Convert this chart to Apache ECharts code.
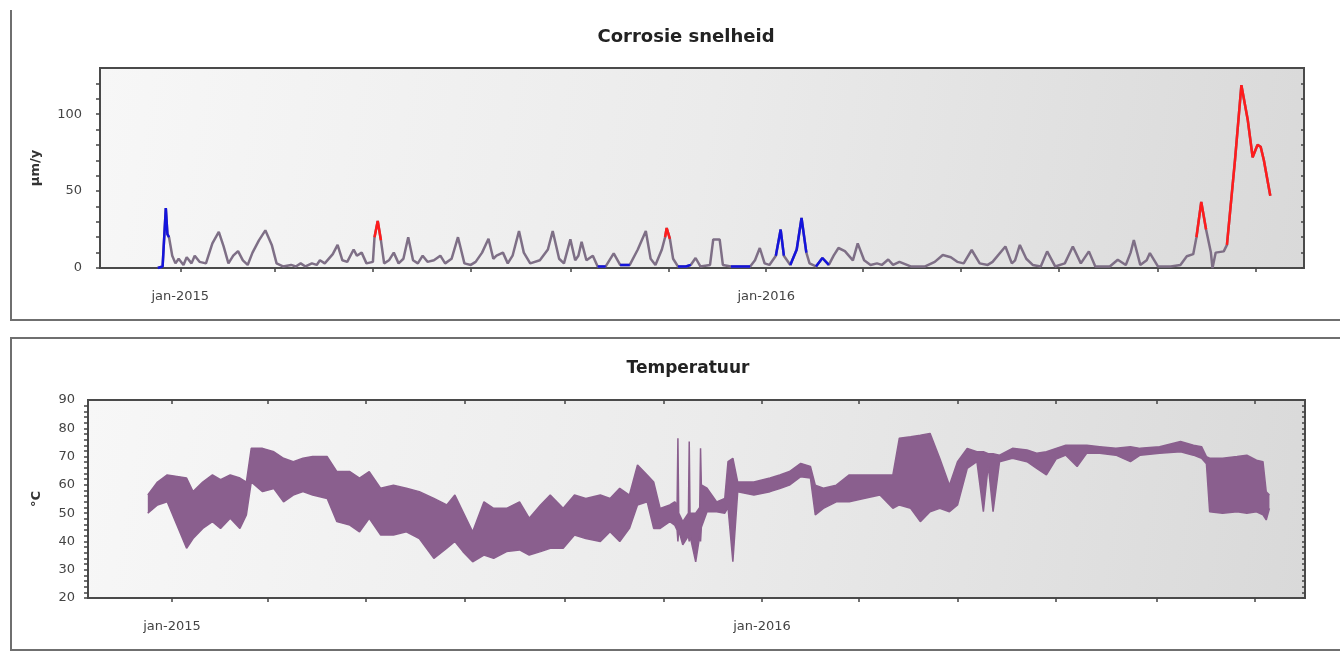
<!DOCTYPE html>
<html>
<head>
<meta charset="utf-8">
<title>Corrosie snelheid / Temperatuur</title>
<script src="https://cdn.jsdelivr.net/npm/echarts@6/dist/echarts.min.js"></script>
<style>
  html, body { margin: 0; padding: 0; background: #fff; }
  #chart { width: 1340px; height: 652px; }
</style>
</head>
<body>
<div id="chart"></div>
<script>
// dagen gerekend vanaf 1 jan 2015
const corrDay = [-14, -11, -9, -8, -7, -5, -3, -1, 2, 4, 7, 9, 12, 16, 20, 24, 27, 30, 33, 36, 39, 42, 45, 49, 53, 57, 60, 64, 69, 72,
  75, 78, 82, 85, 87, 90, 95, 98, 101, 104, 108, 110, 113, 116, 120, 121, 123, 125, 127, 130, 133, 136, 139, 142, 145, 148, 151, 154, 158, 162,
  165, 169, 173, 177, 181, 184, 188, 192, 195, 197, 201, 204, 207, 211, 214, 218, 224, 229, 232, 236, 239, 243, 246, 248, 250, 253, 257, 260, 265, 270,
  274, 280, 285, 290, 293, 296, 300, 302, 303, 305, 307, 310, 315, 318, 321, 324, 330, 332, 336, 338, 343, 355, 358, 361, 364, 367, 371, 374, 376, 380,
  384, 387, 390, 392, 396, 400, 404, 407, 410, 414, 419, 422, 426, 430, 434, 437, 441, 444, 448, 455, 464, 470, 475, 480, 484, 488, 493, 498, 503, 506,
  514, 518, 520, 523, 527, 531, 536, 540, 545, 551, 556, 561, 566, 570, 579, 584, 589, 592, 594, 598, 602, 604, 609, 617, 623, 627, 631, 633, 636, 639,
  642, 643, 645, 650, 652, 657, 661, 665, 668, 671, 673, 675, 679]
const corrVal = [0, 1, 39, 22, 20, 8, 3, 6, 2, 7, 3, 8, 4, 3, 16, 23.5, 14, 3, 8, 11, 5, 2, 10, 18, 24.5, 15, 3, 1, 2, 1,
  3, 1, 3, 2, 5, 3, 9, 15, 5, 4, 12, 8, 10, 3, 4, 20, 30.5, 18, 3, 5, 10, 3, 6, 20, 5, 3, 8, 4, 5, 8,
  3, 6, 20, 3, 2, 4, 10, 19, 6, 8, 10, 3, 8, 24, 10, 3, 5, 12, 24, 6, 3, 18.6, 5, 8, 17, 5, 8, 1, 1, 9.5,
  2, 2, 12, 24, 6, 2, 12, 20, 26, 19, 6, 1, 1, 2, 6.5, 1, 2, 18.6, 18.6, 2, 1, 1, 5, 13, 3, 2, 8, 25, 8, 2,
  12, 32.5, 10, 3, 1, 6.5, 2, 8, 13, 11, 5, 16, 5, 2, 3, 2, 5.5, 2, 4, 1, 1, 4, 8.4, 7, 4, 3, 11.7, 3, 2, 4,
  14, 3, 5, 15, 6, 2, 1, 10.8, 1, 3, 14, 3, 10.8, 1, 1, 5.4, 2, 10, 18.2, 2, 5, 9.7, 1, 1, 2, 7.6, 9, 20, 43, 25,
  10, 0, 10, 10.8, 15, 70, 118.8, 96, 72, 80, 78.8, 70, 47]

// stukken die blauw / rood gekleurd zijn
const blueSegments = [
  [[-14, 0], [-11, 1], [-9, 39], [-8, 22], [-7, 20]],
  [[260, 1], [265, 1]],
  [[274, 2], [280, 2]],
  [[310, 1], [315, 1], [318, 2]],
  [[343, 1], [355, 1]],
  [[371, 8], [374, 25], [376, 8]],
  [[380, 2], [384, 12], [387, 32.5], [390, 10]],
  [[396, 1], [400, 6.5], [404, 2]]
]
const redSegments = [
  [[121, 20], [123, 30.5], [125, 18]],
  [[302, 20], [303, 26], [305, 19]],
  [[633, 20], [636, 43], [639, 25]],
  [[652, 15], [657, 70], [661, 118.8], [665, 96], [668, 72], [671, 80], [673, 78.8], [675, 70], [679, 47]]
]

// temperatuur: onder- en bovenkant van de band
const tempDay = [-15, -9, -3, 3, 9, 13, 19, 25, 30, 36, 42, 46, 49, 56, 63, 69, 75, 81, 87, 96,
  102, 110, 116, 122, 129, 137, 145, 153, 162, 170, 175, 180, 186, 193, 199, 207, 215, 221, 228, 234,
  242, 249, 256, 265, 271, 277, 283, 288, 294, 298, 302, 308, 311, 312.5, 313, 313.5, 316, 319.5, 320, 320.5,
  324, 326.5, 327, 327.5, 331, 337, 342, 344, 347, 350, 360, 370, 376, 382, 389, 395, 398, 403, 411, 419,
  428, 438, 446, 450, 457, 463, 469, 475, 481, 486, 492, 498, 502, 505, 508, 512, 520, 529, 535, 541,
  547, 553, 560, 566, 574, 584, 593, 599, 611, 624, 632, 637, 640, 642, 650, 659, 665, 671, 675, 677, 679]
const tempHigh = [56.4, 61, 63.5, 63, 62.4, 57.6, 61, 63.5, 61.8, 63.5, 62.4, 61, 72.9, 72.9, 71.7, 69.4, 68.2, 69.4, 70, 70,
  64.7, 64.7, 62.4, 64.7, 58.8, 59.9, 58.8, 57.6, 55.2, 52.9, 56.4, 50.5, 43.4, 54, 51.7, 51.7, 54, 48.2, 52.9, 56.4,
  51.7, 56.4, 55.2, 56.4, 55.2, 58.8, 56.4, 67, 63.5, 61, 51.7, 52.9, 54, 53, 76.5, 50, 47, 50, 75.3, 50,
  50, 52, 72.9, 60, 58.8, 54, 55.2, 68.2, 69.4, 61, 61, 62.4, 63.5, 64.7, 67.6, 66.5, 59.9, 58.8, 59.9, 63.5,
  63.5, 63.5, 63.5, 76.5, 77, 77.5, 78.2, 69.4, 59.9, 68.2, 72.9, 71.7, 71.7, 71, 71, 70.5, 72.9, 72.3, 71.2, 71.7,
  72.9, 74, 74, 74, 73.5, 72.9, 73.5, 72.9, 73.5, 75.3, 74, 73.5, 70, 69.4, 69.4, 70, 70.5, 68.7, 68.2, 57.6, 56.4]
const tempLow = [50, 52.9, 54, 45.8, 37.6, 41, 44.6, 47, 44.6, 48.2, 44.6, 49.4, 61, 57.6, 58.7, 54, 56.4, 57.6, 56.4, 55.2,
  47, 45.8, 43.4, 48.2, 42.3, 42.3, 43.4, 41, 34, 37.6, 40, 36.4, 32.8, 35.2, 34, 36.4, 37, 35.2, 36.4, 37.6,
  37.6, 42.3, 41, 40, 43.4, 40, 44.6, 52.9, 54, 44.6, 44.6, 47, 45.8, 44, 40, 44, 38.8, 42, 40, 42,
  32.8, 42, 40, 45, 50.5, 50.5, 50, 52, 32.8, 57.6, 56.4, 57.6, 58.7, 59.9, 62.9, 62.4, 49.4, 51.7, 54, 54,
  55.2, 56.4, 51.7, 52.9, 51.7, 47, 50.5, 51.7, 50.5, 52.9, 65.8, 68.2, 50.5, 67, 50.5, 68.2, 69.4, 68.2, 65.8, 63.5,
  69.1, 70.5, 66.5, 71.2, 71.2, 70.5, 68.2, 70.5, 71.2, 71.7, 70.5, 69.4, 67.5, 50.5, 50, 50.5, 50, 50.5, 49.4, 47.6, 51.7]

// as-indeling
const tickMonths = ['2015-01', '2015-03', '2015-05', '2015-07', '2015-09', '2015-11',
  '2016-01', '2016-03', '2016-05', '2016-07', '2016-09', '2016-11']
const labelMonths = ['2015-01', '2016-01']
const corrLabels = [0, 50, 100]
const tempLabels = [20, 30, 40, 50, 60, 70, 80, 90]

const DAY = 86400000
const BASE = Date.UTC(2015, 0, 1)
const t = (d) => BASE + d * DAY
const m = (s) => Date.UTC(+s.slice(0, 4), +s.slice(5, 7) - 1, 1)

const font = 'DejaVu Sans'
const labelColor = '#444'
const corrColor = '#7e6f86'
const tempColor = '#8a5f8e'

const tickVals = tickMonths.map(m)
const labelVals = labelMonths.map(m)
const monthNames = ['jan', 'feb', 'mrt', 'apr', 'mei', 'jun', 'jul', 'aug', 'sep', 'okt', 'nov', 'dec']

const plotBg = () => new echarts.graphic.LinearGradient(0, 0, 1, 1, [
  { offset: 0, color: '#f7f7f7' },
  { offset: 0.5, color: '#ebebeb' },
  { offset: 1, color: '#d9d9d9' }
])

// zichtbare tijd-as als value-as (ms) met customValues, plus een verborgen time-as voor de series
function xAxes(grid, min, max) {
  return [
    {
      type: 'value', gridIndex: grid, min: t(min), max: t(max), position: 'bottom',
      axisLine: { show: false },
      splitLine: { show: false },
      axisTick: { show: true, customValues: tickVals, length: 4, lineStyle: { color: '#444', width: 1.5 } },
      axisLabel: {
        customValues: labelVals, color: labelColor, fontFamily: font, fontSize: 13, margin: 22,
        formatter: (v) => {
          const d = new Date(v)
          return monthNames[d.getUTCMonth()] + '-' + d.getUTCFullYear()
        }
      }
    },
    {
      type: 'value', gridIndex: grid, min: t(min), max: t(max), position: 'top',
      axisLine: { show: false },
      splitLine: { show: false },
      axisTick: { show: true, inside: true, customValues: tickVals, length: 4, lineStyle: { color: '#444', width: 1.5 } },
      axisLabel: { show: false }
    },
    { type: 'time', gridIndex: grid, min: t(min), max: t(max), show: false }
  ]
}

function yAxes(grid, min, max, step, labels, name, nameGap, margin) {
  const ticks = []
  for (let v = min; v < max; v += step) ticks.push(v)
  return [
    {
      type: 'value', gridIndex: grid, min, max, position: 'left',
      name, nameLocation: 'middle', nameRotate: 90, nameGap,
      nameTextStyle: { fontFamily: font, fontSize: 13, fontWeight: 'bold', color: '#333' },
      axisLine: { show: false },
      splitLine: { show: false },
      axisTick: { show: true, customValues: ticks, length: 4, lineStyle: { color: '#444', width: 1.5 } },
      axisLabel: { customValues: labels, color: labelColor, fontFamily: font, fontSize: 13, margin }
    },
    {
      type: 'value', gridIndex: grid, min, max, position: 'right',
      axisLine: { show: false },
      splitLine: { show: false },
      axisTick: { show: true, inside: true, customValues: ticks, length: 3, lineStyle: { color: '#444', width: 1.5 } },
      axisLabel: { show: false }
    }
  ]
}

const lineBase = { type: 'line', showSymbol: false, symbol: 'none', silent: true }

const series = [
  {
    ...lineBase, name: 'corrosie', xAxisIndex: 2, yAxisIndex: 0, z: 2,
    lineStyle: { color: corrColor, width: 2.5 },
    data: corrDay.map((d, i) => [t(d), corrVal[i]])
  }
]
blueSegments.forEach((seg) => series.push({
  ...lineBase, xAxisIndex: 2, yAxisIndex: 0, z: 3,
  lineStyle: { color: '#1414dc', width: 2.5 },
  data: seg.map((p) => [t(p[0]), p[1]])
}))
redSegments.forEach((seg) => series.push({
  ...lineBase, xAxisIndex: 2, yAxisIndex: 0, z: 4,
  lineStyle: { color: '#ff1c1c', width: 2.5 },
  data: seg.map((p) => [t(p[0]), p[1]])
}))
series.push(
  {
    ...lineBase, name: 'temp-onder', xAxisIndex: 5, yAxisIndex: 2, stack: 'temp',
    lineStyle: { color: tempColor, width: 1.5 },
    data: tempDay.map((d, i) => [t(d), tempLow[i]])
  },
  {
    ...lineBase, name: 'temp-band', xAxisIndex: 5, yAxisIndex: 2, stack: 'temp',
    lineStyle: { color: tempColor, width: 1.5 },
    areaStyle: { color: tempColor, opacity: 1 },
    data: tempDay.map((d, i) => [t(d), +(tempHigh[i] - tempLow[i]).toFixed(2)])
  }
)

const chart = echarts.init(document.getElementById('chart'))
chart.setOption({
  animation: false,
  useUTC: true,
  backgroundColor: '#fff',
  title: [
    { text: 'Corrosie snelheid', left: 681, top: 23, textAlign: 'center',
      textStyle: { fontFamily: font, fontSize: 18, fontWeight: 'bold', color: '#222' } },
    { text: 'Temperatuur', left: 683, top: 355, textAlign: 'center',
      textStyle: { fontFamily: font, fontSize: 17, fontWeight: 'bold', color: '#222' } }
  ],
  graphic: [
    { type: 'polyline', silent: true, shape: { points: [[11, 10], [11, 320], [1345, 320]] },
      style: { stroke: '#6f6f6f', lineWidth: 2, fill: null } },
    { type: 'rect', silent: true, shape: { x: 11, y: 338, width: 1340, height: 312 },
      style: { stroke: '#6f6f6f', lineWidth: 2, fill: null } }
  ],
  grid: [
    { left: 100, right: 36, top: 68, bottom: 384, show: true, borderColor: '#4a4a4a', borderWidth: 2,
      backgroundColor: plotBg(), outerBoundsMode: 'none' },
    { left: 88, right: 35, top: 400, bottom: 54, show: true, borderColor: '#4a4a4a', borderWidth: 2,
      backgroundColor: plotBg(), outerBoundsMode: 'none' }
  ],
  xAxis: [...xAxes(0, -50, 700), ...xAxes(1, -52, 701)],
  yAxis: [
    ...yAxes(0, 0, 130, 10, corrLabels, 'µm/y', 58, 18),
    ...yAxes(1, 20, 90, 2, tempLabels, '°C', 45, 13)
  ],
  series
})
</script>
</body>
</html>
